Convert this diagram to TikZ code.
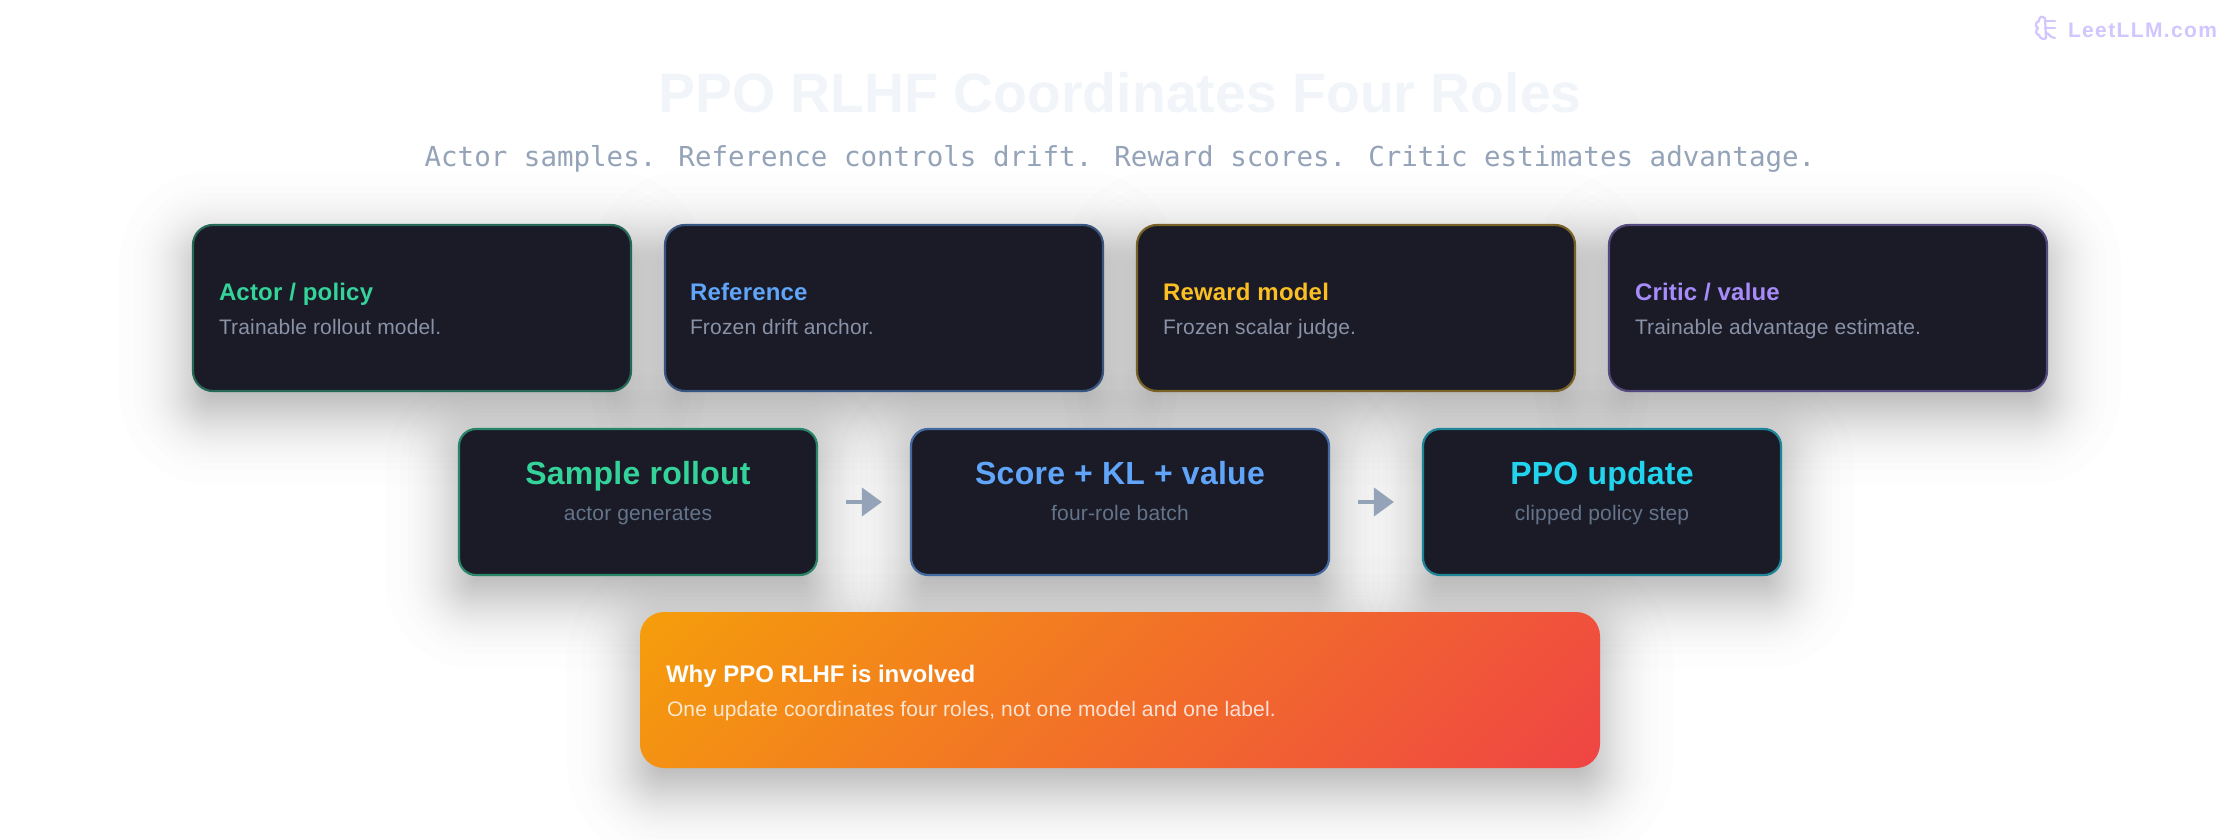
\documentclass[tikz,border=0pt]{standalone}
\usepackage{fontspec}
\setmainfont{Liberation Sans}
\newfontfamily\submono{DejaVu Sans Mono}
\newfontfamily\logofont{Liberation Sans}[LetterSpace=6.5]
\newfontfamily\bodyfont{Liberation Sans}[LetterSpace=0.8]
\newfontfamily\headfont{Liberation Sans}[LetterSpace=0.8]
\usetikzlibrary{arrows.meta}
\definecolor{cardbg}{HTML}{1A1B26}
\definecolor{cgreen}{HTML}{34D399}
\definecolor{cblue}{HTML}{60A5FA}
\definecolor{camber}{HTML}{FBBF24}
\definecolor{cpurple}{HTML}{A78BFA}
\definecolor{ccyan}{HTML}{22D3EE}
\definecolor{slatea}{HTML}{94A3B8}
\definecolor{slateb}{HTML}{8A92A8}
\definecolor{slatec}{HTML}{64748B}
\definecolor{titlec}{HTML}{F1F5F9}
\definecolor{logoc}{HTML}{D2C6FE}
\definecolor{gradA}{HTML}{F59E0B}
\definecolor{gradB}{HTML}{EF4444}
% font size in px (1 px = 0.5 pt)
\newcommand{\fpx}[1]{\fontsize{\dimexpr#1pt/2\relax}{\dimexpr#1pt/2\relax}\selectfont}
% soft shadow, Gaussian profile: centre x, centre y, width, height, radius (px)
\newcommand{\softshadow}[5]{%
  \foreach \i in {0,...,43}{%
    \pgfmathsetmacro{\pp}{(\i+0.5)/44}%
    \pgfmathsetmacro{\ss}{max(-32*4.91*(pow(\pp,0.14)-pow(1-\pp,0.14)),-60)}%
    \pgfmathsetmacro{\rr}{max(#5+\ss,2)}%
    \fill[black,fill opacity=0.008,rounded corners=\rr*0.5pt]
      (#1-#3/2-\ss,#2+20-#4/2-\ss) rectangle (#1+#3/2+\ss,#2+20+#4/2+\ss);
  }%
}
\tikzset{
  x=0.5pt,y=-0.5pt,
  cardbig/.style={draw=#1!42!cardbg,fill=cardbg,line width=1.1pt,rounded corners=10pt,
    minimum width=219pt,minimum height=83pt,inner sep=0pt},
  cardflow/.style={draw=#1!58!cardbg,fill=cardbg,line width=1.1pt,rounded corners=8.5pt,
    minimum height=73pt,inner sep=0pt},
  lbl/.style={inner sep=0pt,outer sep=0pt,anchor=base west},
  lblc/.style={inner sep=0pt,outer sep=0pt,anchor=base},
  cardtitle/.style={lbl,font=\headfont\fpx{24}\bfseries,text=#1},
  carddesc/.style={lbl,font=\bodyfont\fpx{21},text=slateb},
  flowtitle/.style={lblc,font=\headfont\fpx{32}\bfseries,text=#1},
  flowdesc/.style={lblc,font=\bodyfont\fpx{21},text=slatec},
  flowarrow/.style={-{Triangle[length=10pt,width=14pt]},draw=slatea,line width=2pt,
    shorten <=14pt,shorten >=14pt},
}
\begin{document}
\begin{tikzpicture}
\useasboundingbox[fill=white] (0,0) rectangle (2240,840);
% shadows
\softshadow{412}{308}{440}{168}{20}
\softshadow{884}{308}{440}{168}{20}
\softshadow{1356}{308}{440}{168}{20}
\softshadow{1828}{308}{440}{168}{20}
\softshadow{638}{502}{360}{148}{18}
\softshadow{1120}{502}{420}{148}{18}
\softshadow{1602}{502}{360}{148}{18}
\softshadow{1120}{690}{960}{156}{24}
% header
\node[lblc,font=\fpx{55.4}\bfseries,text=titlec] (title) at (1120,113) {PPO RLHF Coordinates Four Roles};
\node[lblc,font=\submono\fpx{27.5},text=slatea] (subtitle) at (1120,167) {Actor samples. Reference controls drift. Reward scores. Critic estimates advantage.};
% logo
\node[lbl,font=\logofont\fpx{21}\bfseries,text=logoc] (logo) at (2068,38) {LeetLLM.com};
\begin{scope}[draw=logoc,line width=1.1pt,line cap=round,line join=round]
  \draw (2045,18) .. controls (2041,15) and (2039,18) .. (2039,21)
        .. controls (2035,22) and (2035,27) .. (2038,28)
        .. controls (2035,31) and (2036,35) .. (2039,35)
        .. controls (2040,39) and (2044,40) .. (2046,38)
        -- (2045,18);
  \draw (2045,21) -- (2055,21) (2045,28) -- (2055,28);
  \draw (2046,33) .. controls (2049,33) and (2050,38) .. (2055,38);
\end{scope}
% role cards
\node[cardbig=cgreen] (actor) at (412,308) {};
\node[cardbig=cblue] (reference) at (884,308) {};
\node[cardbig=camber] (reward) at (1356,308) {};
\node[cardbig=cpurple] (critic) at (1828,308) {};
\node[cardtitle=cgreen] (actorT) at (219,300) {Actor / policy};
\node[carddesc] (actorD) at (219,334) {Trainable rollout model.};
\node[cardtitle=cblue] (referenceT) at (690,300) {Reference};
\node[carddesc] (referenceD) at (690,334) {Frozen drift anchor.};
\node[cardtitle=camber] (rewardT) at (1163,300) {Reward model};
\node[carddesc] (rewardD) at (1163,334) {Frozen scalar judge.};
\node[cardtitle=cpurple] (criticT) at (1635,300) {Critic / value};
\node[carddesc] (criticD) at (1635,334) {Trainable advantage estimate.};
% flow
\node[cardflow=cgreen,minimum width=179pt] (sample) at (638,502) {};
\node[cardflow=cblue,minimum width=209pt] (score) at (1120,502) {};
\node[cardflow=ccyan,minimum width=179pt] (update) at (1602,502) {};
\node[flowtitle=cgreen] (sampleT) at (638,484) {Sample rollout};
\node[flowdesc] (sampleD) at (638,520) {actor generates};
\node[flowtitle=cblue] (scoreT) at (1120,484) {Score + KL + value};
\node[flowdesc] (scoreD) at (1120,520) {four-role batch};
\node[flowtitle=ccyan] (updateT) at (1602,484) {PPO update};
\node[flowdesc] (updateD) at (1602,520) {clipped policy step};
\draw[flowarrow] (sample) -- (score);
\draw[flowarrow] (score) -- (update);
% callout
\begin{scope}
  \clip[rounded corners=12pt] (640,612) rectangle (1600,768);
  \begin{scope}[transform canvas={rotate around={-45:(1120,690)}}]
    \shade[left color=gradA,right color=gradB,shading=axis,shading angle=90] (725.5,-200) rectangle (1514.5,1600);
  \end{scope}
\end{scope}
\node[lbl,font=\fpx{24}\bfseries,text=white] (whyT) at (666,682) {Why PPO RLHF is involved};
\node[lbl,font=\bodyfont\fpx{21},text=white,text opacity=0.8] (whyD) at (667,716) {One update coordinates four roles, not one model and one label.};
\end{tikzpicture}
\end{document}
